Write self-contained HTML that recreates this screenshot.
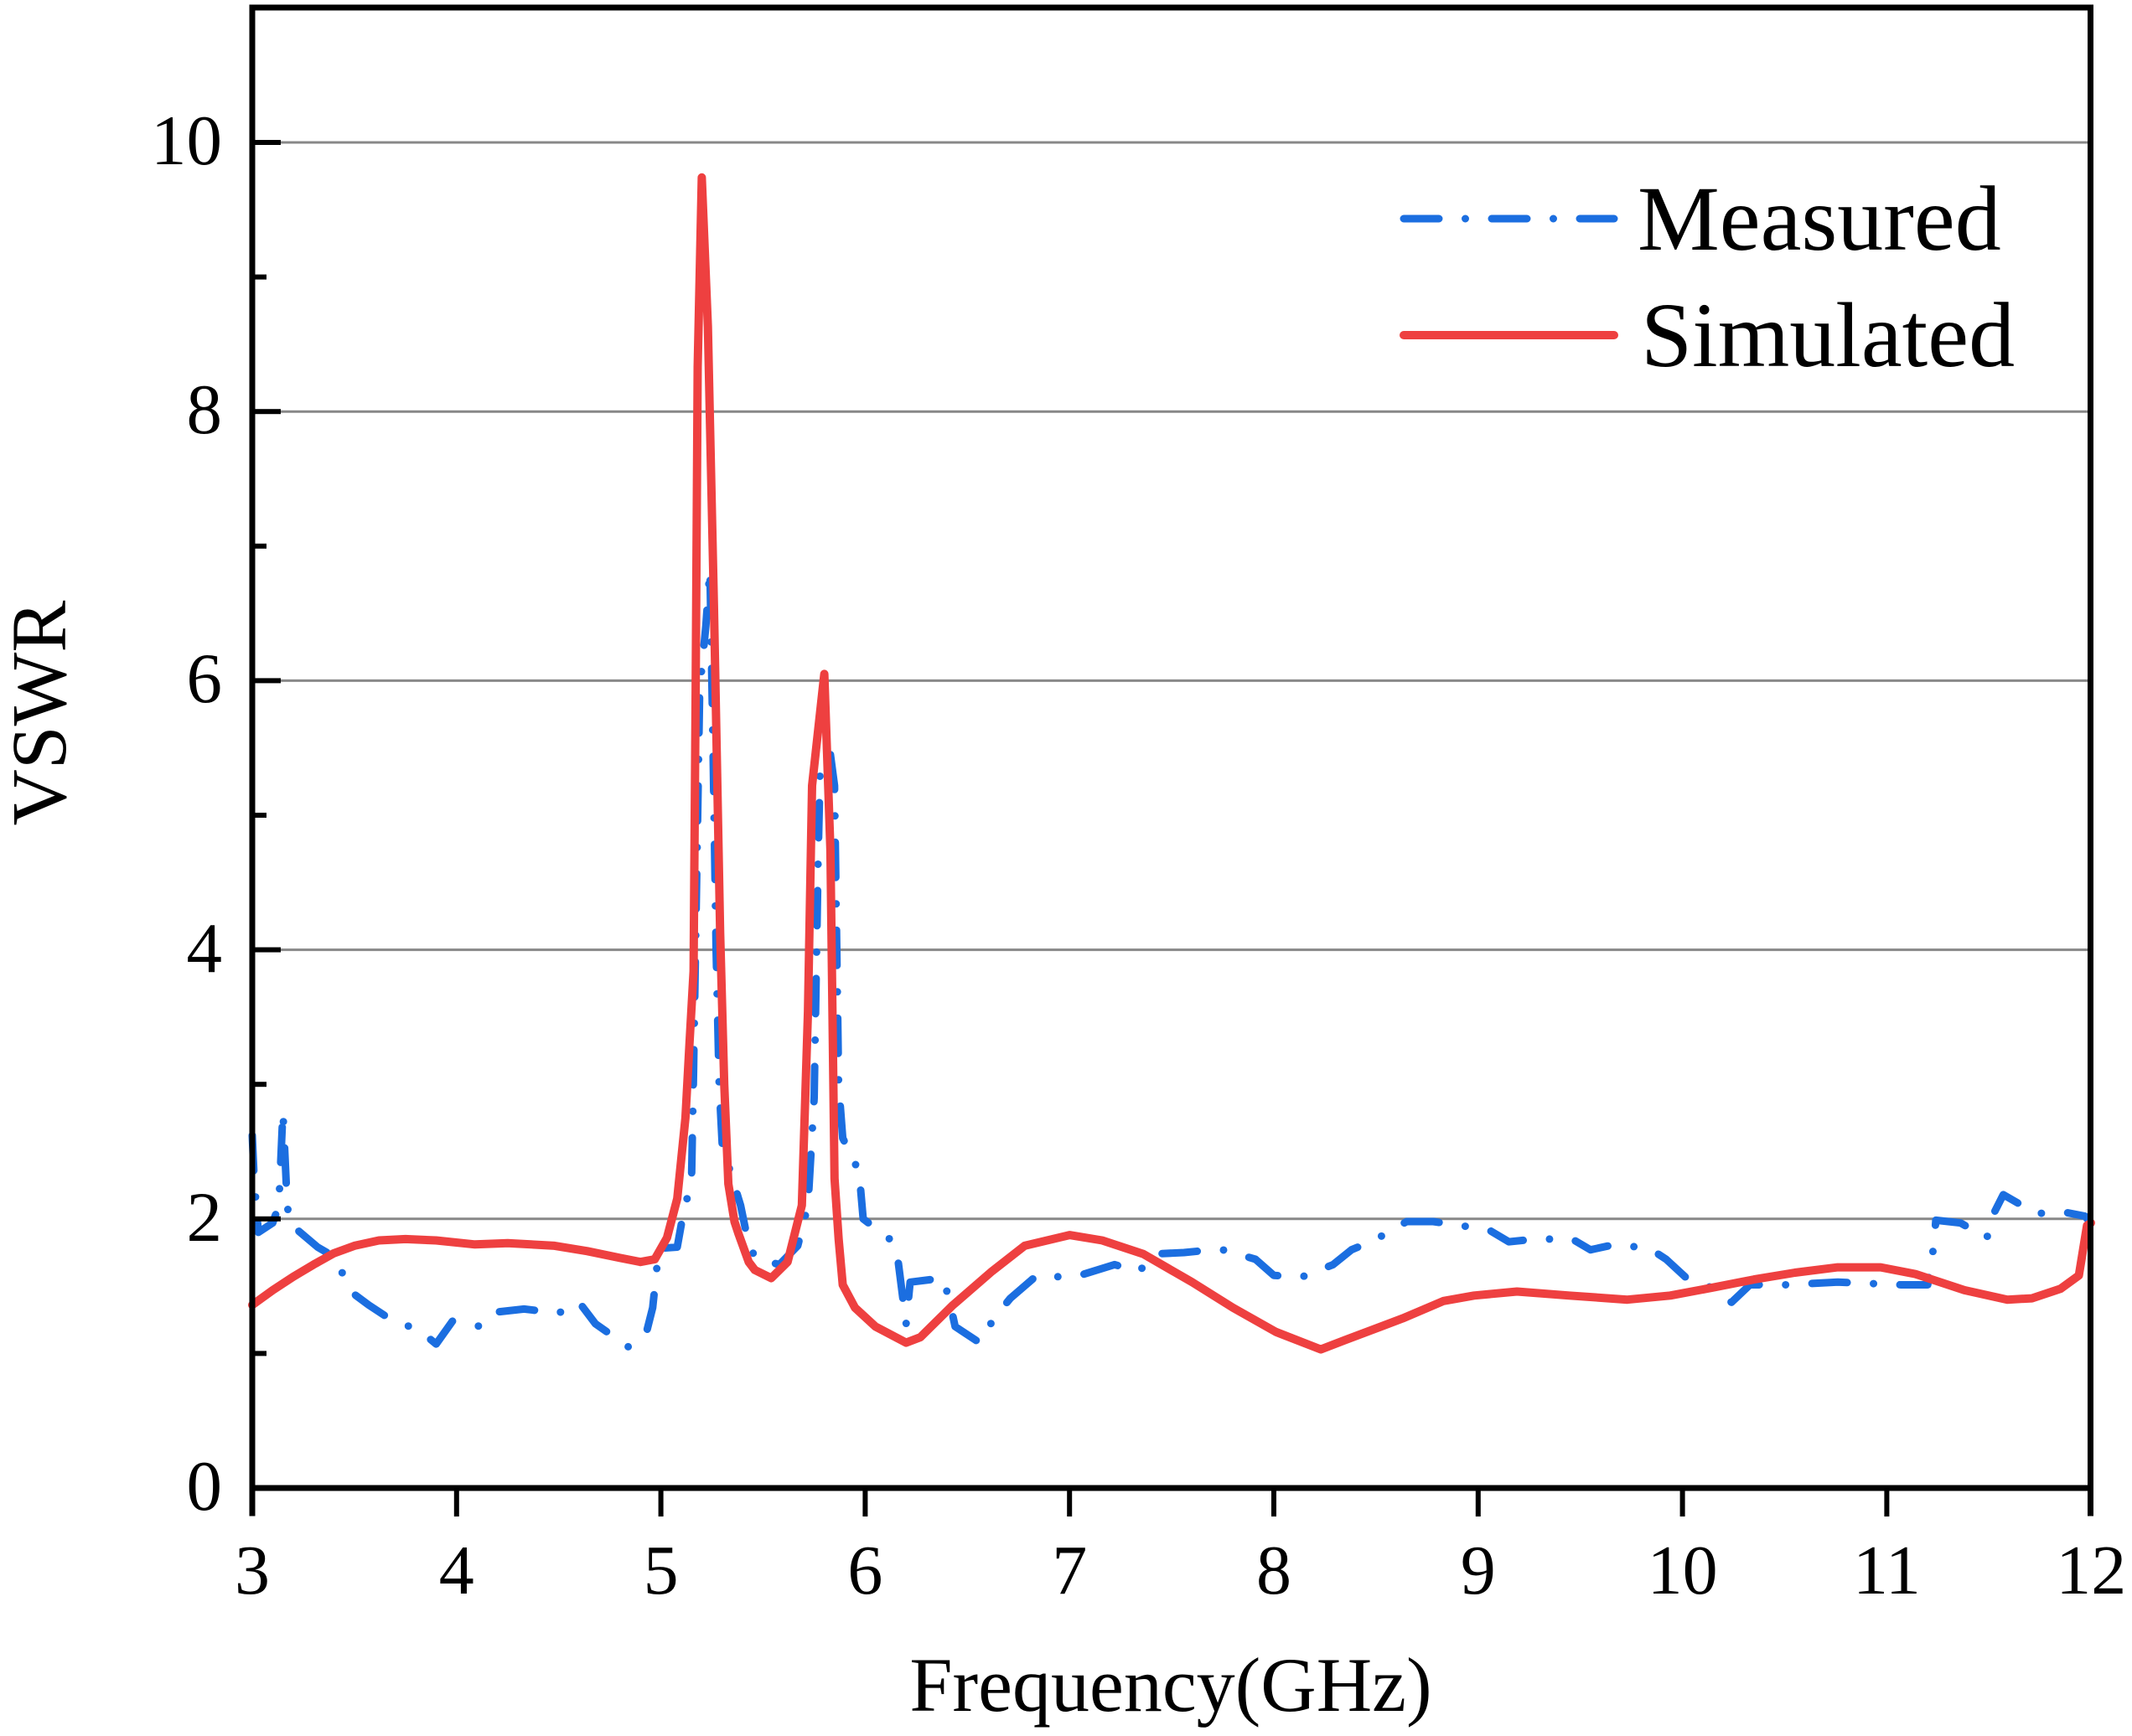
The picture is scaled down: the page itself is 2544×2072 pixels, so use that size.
<!DOCTYPE html>
<html>
<head>
<meta charset="utf-8">
<style>
html,body{margin:0;padding:0;background:#fff;}
svg{display:block;}
text{font-family:"Liberation Serif","Times New Roman",serif;fill:#000;}
</style>
</head>
<body>
<svg width="2544" height="2072" viewBox="0 0 2544 2072" xmlns="http://www.w3.org/2000/svg">
<rect x="0" y="0" width="2544" height="2072" fill="#fff"/>

<!-- gridlines -->
<g stroke="#888" stroke-width="3">
<line x1="301" y1="1454.8" x2="2494" y2="1454.8"/>
<line x1="301" y1="1133.6" x2="2494" y2="1133.6"/>
<line x1="301" y1="812.4" x2="2494" y2="812.4"/>
<line x1="301" y1="491.2" x2="2494" y2="491.2"/>
<line x1="301" y1="170" x2="2494" y2="170"/>
</g>

<!-- Measured -->
<polyline fill="none" stroke="#1b6ee0" stroke-width="9" stroke-linecap="round" stroke-linejoin="round" stroke-dasharray="42 31.5 0 31.5"
points="301,1355.2 303.4,1409.8 308.3,1470.9 325.4,1459.6 332.7,1438.7 337.6,1326.3 342.4,1430.7 344.9,1459.6 379,1488.5 398.5,1499.8 420.5,1543.1 440,1557.6 464.3,1573.6 500.9,1588.1 520.4,1604.2 539.9,1576.9 574.1,1583.3 596,1565.6 625.3,1562.4 666.7,1567.2 691.1,1554.4 710.6,1580.1 749.6,1607.4 771.5,1589.7 778.8,1560.8 786.2,1490.1 808.1,1488.5 813,1461.2 825.2,1406.6 827.6,1278.1 834.9,823.6 842.3,746.6 847.1,679.1 850.8,892.7 854.5,1133.6 858.1,1294.2 861.8,1366.5 883.7,1438.7 891,1474.1 900.7,1501.4 930,1509.4 951.9,1486.9 964.1,1438.7 971.5,1310.3 976.3,1021.2 978.8,910.4 990.9,900.7 995.8,937.7 1000.7,1294.2 1005.6,1358.4 1025.1,1398.6 1030,1454.8 1061.7,1478.9 1071.4,1503 1081.2,1580.1 1086,1530.3 1125,1525.5 1132.4,1549.6 1139.7,1583.3 1168.9,1602.6 1186,1573.6 1205.5,1549.6 1237.2,1522.3 1264,1523.9 1288.4,1522.3 1329.8,1509.4 1359.1,1517.4 1378.6,1496.6 1412.7,1495 1429.8,1493.3 1459.1,1491.7 1498.1,1503 1520,1522.3 1554.1,1523.9 1590.7,1509.4 1612.6,1491.7 1639.5,1480.5 1678.5,1458 1710.2,1458 1776,1467.6 1800.4,1482.1 1832.1,1478.9 1876,1478.9 1897.9,1491.7 1927.2,1485.3 1968.6,1490.1 1988.1,1503 2012.5,1525.5 2041.7,1536.7 2066.1,1554.4 2088.1,1533.5 2129.5,1533.5 2192.9,1530.3 2268.5,1533.5 2300.2,1533.5 2307.5,1486.9 2309.9,1456.4 2339.2,1459.6 2370.9,1477.3 2378.2,1450 2390.4,1425.9 2429.4,1448.4 2463.5,1446.8 2487.9,1451.6 2495,1459.6"/>

<!-- Simulated -->
<polyline fill="none" stroke="#ee4040" stroke-width="10" stroke-linecap="round" stroke-linejoin="round"
points="301,1557.6 325.4,1539.9 349.8,1523.9 374.1,1509.4 398.5,1495.8 422.9,1486.9 452.2,1480.5 483.9,1478.9 520.4,1480.5 566.7,1485.3 605.8,1483.7 661.8,1486.9 700.8,1493.3 739.8,1501.4 764.2,1506.2 781.3,1503 795.9,1477.3 808.1,1430.7 817.9,1334.3 822.7,1246 827.6,1159.3 830.1,823.6 832.5,438.2 837.4,211.8 844.7,390 852,727.3 859.3,1112.7 864.2,1294.2 869.1,1413 876.4,1458 881.2,1472.5 893.4,1506.2 900.7,1515.8 920.3,1525.5 939.8,1506.2 956.8,1438.7 964.1,1207.5 969,937.7 983.6,804.4 990.9,1014.8 995.8,1406.6 1000.7,1478.9 1005.6,1533.5 1020.2,1560.8 1044.6,1583.3 1081.2,1602.6 1098.2,1596.1 1137.2,1557.6 1183.6,1517.4 1222.6,1486.9 1276.2,1474.1 1315.2,1480.5 1364,1496.6 1422.5,1530.3 1471.2,1560.8 1522.4,1589.7 1576.1,1610.6 1605.3,1599.3 1673.6,1573.6 1722.4,1552.8 1758.9,1546.3 1810.1,1541.5 1872.5,1546.3 1941.8,1551.2 1993,1546.3 2044.2,1536.7 2093,1527.1 2141.7,1519 2192.9,1512.6 2244.1,1512.6 2285.5,1520.6 2344,1539.9 2395.2,1551.2 2424.5,1549.6 2458.6,1538.3 2480.6,1522.3 2490.3,1462.8 2495,1459.6"/>

<!-- axes frame -->
<g fill="#000">
<rect x="297.5" y="5.5" width="7" height="1804"/>
<rect x="2491" y="5.5" width="7" height="1804"/>
<rect x="297.5" y="5.5" width="2200.5" height="7"/>
<rect x="297.5" y="1772.5" width="2200.5" height="7"/>
<rect x="301" y="1451.8" width="34" height="6"/>
<rect x="301" y="1130.6" width="34" height="6"/>
<rect x="301" y="809.4" width="34" height="6"/>
<rect x="301" y="488.2" width="34" height="6"/>
<rect x="301" y="167" width="34" height="6"/>
<rect x="301" y="1612.4" width="17" height="6"/>
<rect x="301" y="1291.2" width="17" height="6"/>
<rect x="301" y="970" width="17" height="6"/>
<rect x="301" y="648.8" width="17" height="6"/>
<rect x="301" y="327.6" width="17" height="6"/>
<rect x="541.8" y="1776" width="6" height="34"/>
<rect x="785.6" y="1776" width="6" height="34"/>
<rect x="1029.4" y="1776" width="6" height="34"/>
<rect x="1273.2" y="1776" width="6" height="34"/>
<rect x="1517" y="1776" width="6" height="34"/>
<rect x="1760.8" y="1776" width="6" height="34"/>
<rect x="2004.6" y="1776" width="6" height="34"/>
<rect x="2248.4" y="1776" width="6" height="34"/>
</g>

<!-- y tick labels -->
<g font-size="85" text-anchor="end">
<text x="265" y="1802">0</text>
<text x="265" y="1481">2</text>
<text x="265" y="1160">4</text>
<text x="265" y="838">6</text>
<text x="265" y="517">8</text>
<text x="265" y="196">10</text>
</g>

<!-- x tick labels -->
<g font-size="84" text-anchor="middle">
<text x="301" y="1902">3</text>
<text x="544.8" y="1902">4</text>
<text x="788.6" y="1902">5</text>
<text x="1032.4" y="1902">6</text>
<text x="1276.2" y="1902">7</text>
<text x="1520" y="1902">8</text>
<text x="1763.8" y="1902">9</text>
<text x="2007.6" y="1902">10</text>
<text x="2251.4" y="1902">11</text>
<text x="2495.2" y="1902">12</text>
</g>

<!-- axis titles -->
<text x="1397" y="2042" font-size="92" text-anchor="middle">Frequency(GHz)</text>
<text transform="translate(78,851) rotate(-90)" font-size="93" text-anchor="middle">VSWR</text>

<!-- legend -->
<line x1="1675" y1="261" x2="1926" y2="261" stroke="#1b6ee0" stroke-width="9" stroke-linecap="round" stroke-dasharray="42 31.5 0 31.5"/>
<line x1="1675" y1="400" x2="1926" y2="400" stroke="#ee4040" stroke-width="10" stroke-linecap="round"/>
<text x="1954" y="298" font-size="110">Measured</text>
<text x="1958" y="437" font-size="110">Simulated</text>
</svg>
</body>
</html>
